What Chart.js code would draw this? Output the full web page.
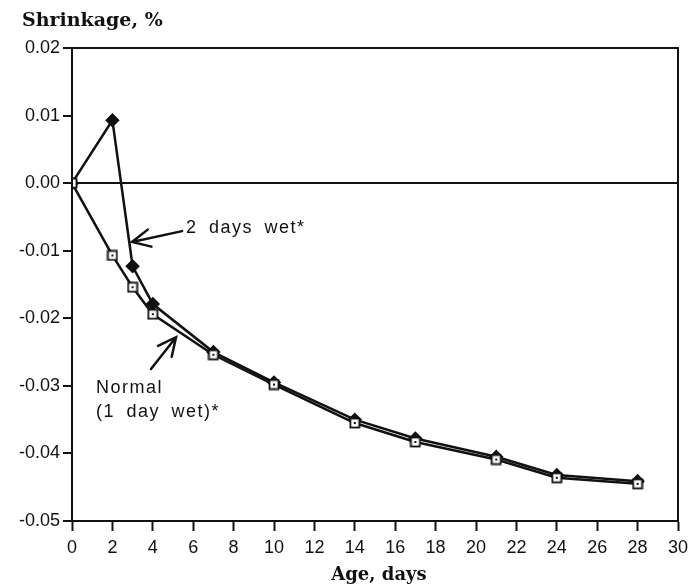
<!DOCTYPE html>
<html>
<head>
<meta charset="utf-8">
<script src="https://cdn.jsdelivr.net/npm/chart.js@4.4.1/dist/chart.umd.min.js"></script>
<style>
  html, body { margin: 0; padding: 0; background: #fff; }
  #wrap { width: 691px; height: 586px; }
</style>
</head>
<body>
<div id="wrap"><canvas id="shrinkChart"></canvas></div>
<script>
// Age in days and shrinkage (%) for the two curing regimes
const ages = [0, 2, 3, 4, 7, 10, 14, 17, 21, 24, 28];
const twoDaysWet = [0.0, 0.0093, -0.0123, -0.0179, -0.0250, -0.0295, -0.0350, -0.0378, -0.0405, -0.0432, -0.0441];
const normalWet = [0.0, -0.0107, -0.0154, -0.0194, -0.0254, -0.0298, -0.0355, -0.0383, -0.0409, -0.0436, -0.0445];

const xTicks = [0, 2, 4, 6, 8, 10, 12, 14, 16, 18, 20, 22, 24, 26, 28, 30];
const yTicks = [0.02, 0.01, 0.00, -0.01, -0.02, -0.03, -0.04, -0.05];

const ink = '#111';

// open square with a dot in the middle
function squareMarker() {
  const c = document.createElement('canvas');
  c.width = 12;
  c.height = 12;
  const g = c.getContext('2d');
  g.fillStyle = '#fff';
  g.fillRect(1, 1, 10, 10);
  g.strokeStyle = ink;
  g.lineWidth = 1.8;
  g.strokeRect(1.5, 1.5, 9, 9);
  g.fillStyle = ink;
  g.fillRect(5, 5, 2, 2);
  return c;
}

function toPoints(ys) {
  return ages.map((a, i) => ({ x: a, y: ys[i] }));
}

// labels and arrows, placed in data units
const labels = [
  { lines: ['2 days wet*'], x: 5.64, y: -0.0074 },
  { lines: ['Normal', '(1 day wet)*'], x: 1.19, y: -0.0311 }
];
const arrows = [
  { from: [5.45, -0.0071], to: [2.97, -0.0087] },
  { from: [3.91, -0.0275], to: [5.15, -0.0228] }
];

const decorations = {
  id: 'decorations',
  afterDatasetsDraw(chart) {
    const { ctx, chartArea: a, scales: { x, y } } = chart;
    ctx.save();

    // frame
    ctx.strokeStyle = ink;
    ctx.lineWidth = 2;
    ctx.strokeRect(a.left, a.top, a.right - a.left, a.bottom - a.top);

    // axis titles
    ctx.fillStyle = ink;
    ctx.font = 'bold 19px "DejaVu Serif"';
    ctx.textAlign = 'left';
    ctx.textBaseline = 'alphabetic';
    ctx.fillText('Shrinkage, %', 22, 26);
    ctx.font = 'bold 18px "DejaVu Serif"';
    ctx.textAlign = 'center';
    ctx.fillText('Age, days', 379, 580);

    // text notes
    ctx.font = '18px "Liberation Sans"';
    ctx.textAlign = 'left';
    ctx.letterSpacing = '1.5px';
    ctx.wordSpacing = '5px';
    labels.forEach(l => {
      const px = x.getPixelForValue(l.x);
      const py = y.getPixelForValue(l.y);
      l.lines.forEach((t, i) => ctx.fillText(t, px, py + i * 24));
    });
    ctx.letterSpacing = '0px';
    ctx.wordSpacing = '0px';

    // open arrows
    ctx.lineWidth = 2.5;
    ctx.lineCap = 'round';
    arrows.forEach(ar => {
      const x0 = x.getPixelForValue(ar.from[0]);
      const y0 = y.getPixelForValue(ar.from[1]);
      const x1 = x.getPixelForValue(ar.to[0]);
      const y1 = y.getPixelForValue(ar.to[1]);
      const ang = Math.atan2(y1 - y0, x1 - x0);
      const wing = 20;
      ctx.beginPath();
      ctx.moveTo(x0, y0);
      ctx.lineTo(x1, y1);
      ctx.moveTo(x1 - wing * Math.cos(ang - 0.45), y1 - wing * Math.sin(ang - 0.45));
      ctx.lineTo(x1, y1);
      ctx.lineTo(x1 - wing * Math.cos(ang + 0.45), y1 - wing * Math.sin(ang + 0.45));
      ctx.stroke();
    });

    ctx.restore();
  }
};

const ctx = document.getElementById('shrinkChart').getContext('2d');

const chart = new Chart(ctx, {
  type: 'scatter',
  data: {
    datasets: [{
      label: 'Normal (1 day wet)*',
      data: toPoints(normalWet),
      showLine: true,
      borderColor: ink,
      borderWidth: 2.5,
      pointStyle: squareMarker(),
      pointRadius: 5
    },
    {
      label: '2 days wet*',
      data: toPoints(twoDaysWet),
      showLine: true,
      borderColor: ink,
      backgroundColor: ink,
      borderWidth: 2.5,
      pointStyle: 'rectRot',
      pointRadius: 5.5
    }]
  },
  options: {
    responsive: true,
    maintainAspectRatio: false,
    animation: false,
    layout: { padding: { top: 48, right: 13, left: 0, bottom: 0 } },
    plugins: {
      legend: { display: false },
      tooltip: { enabled: false }
    },
    scales: {
      x: {
        type: 'linear',
        min: 0,
        max: 30,
        afterBuildTicks: s => { s.ticks = xTicks.map(v => ({ value: v })); },
        afterFit: s => {
          s.height = 65;
          s.paddingLeft = 0;
          s.paddingRight = 0;
        },
        border: { display: true, color: ink, width: 2 },
        grid: { drawOnChartArea: false, drawTicks: true, tickLength: 10, tickColor: ink, tickWidth: 2 },
        ticks: {
          color: ink,
          padding: 6,
          maxRotation: 0,
          autoSkip: false,
          font: { family: 'Liberation Sans', size: 18 }
        }
      },
      y: {
        type: 'linear',
        min: -0.05,
        max: 0.02,
        afterBuildTicks: s => { s.ticks = yTicks.map(v => ({ value: v })); },
        afterFit: s => {
          s.width = 72;
          s.paddingTop = 0;
          s.paddingBottom = 0;
        },
        border: { display: true, color: ink, width: 2 },
        grid: {
          color: c => (c.tick && c.tick.value === 0 ? ink : 'transparent'),
          lineWidth: 2,
          drawTicks: true,
          tickLength: 9,
          tickColor: ink,
          tickWidth: 2
        },
        ticks: {
          color: ink,
          padding: 3,
          autoSkip: false,
          font: { family: 'Liberation Sans', size: 18 },
          callback: v => v.toFixed(2)
        }
      }
    }
  },
  plugins: [decorations]
});
</script>
</body>
</html>
